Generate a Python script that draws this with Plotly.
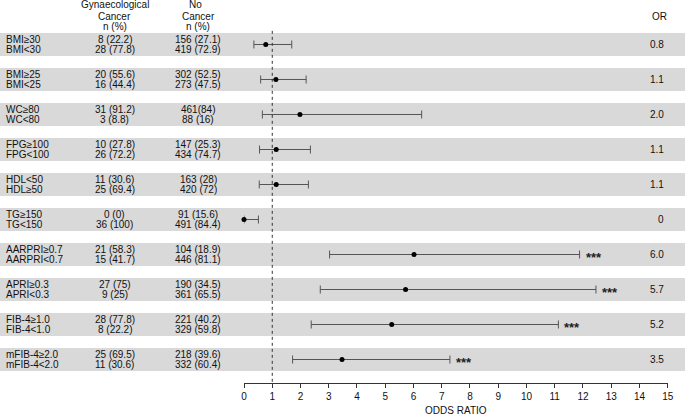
import plotly.graph_objects as go

labels_hi = ["BMI≥30", "BMI≥25", "WC≥80", "FPG≥100", "HDL<50", "TG≥150",
             "AARPRI≥0.7", "APRI≥0.3", "FIB-4≥1.0", "mFIB-4≥2.0"]
labels_lo = ["BMI<30", "BMI<25", "WC<80", "FPG<100", "HDL≥50", "TG<150",
             "AARPRI<0.7", "APRI<0.3", "FIB-4<1.0", "mFIB-4<2.0"]
gyn_hi = ["8 (22.2)", "20 (55.6)", "31 (91.2)", "10 (27.8)", "11 (30.6)", "0 (0)",
          "21 (58.3)", "27 (75)", "28 (77.8)", "25 (69.5)"]
gyn_lo = ["28 (77.8)", "16 (44.4)", "3 (8.8)", "26 (72.2)", "25 (69.4)", "36 (100)",
          "15 (41.7)", "9 (25)", "8 (22.2)", "11 (30.6)"]
no_hi = ["156 (27.1)", "302 (52.5)", "461(84)", "147 (25.3)", "163 (28)", "91 (15.6)",
         "104 (18.9)", "190 (34.5)", "221 (40.2)", "218 (39.6)"]
no_lo = ["419 (72.9)", "273 (47.5)", "88 (16)", "434 (74.7)", "420 (72)", "491 (84.4)",
         "446 (81.1)", "361 (65.5)", "329 (59.8)", "332 (60.4)"]
odds = [0.77, 1.13, 1.98, 1.14, 1.14, 0.0, 6.02, 5.72, 5.23, 3.47]
ci_low = [0.35, 0.59, 0.65, 0.55, 0.54, 0.0, 3.03, 2.70, 2.38, 1.72]
ci_high = [1.69, 2.20, 6.29, 2.35, 2.28, 0.51, 11.88, 12.46, 11.13, 7.29]
or_text = ["0.8", "1.1", "2.0", "1.1", "1.1", "0", "6.0", "5.7", "5.2", "3.5"]
signif = ["", "", "", "", "", "", "***", "***", "***", "***"]
x_ticks = list(range(0, 16))

rows = list(range(len(labels_hi)))
W, H = 685, 416
FONT = "Liberation Sans, Arial, sans-serif"
FS = 10

fig = go.Figure()

fig.add_trace(go.Scatter(
    x=odds, y=rows, mode="markers",
    marker=dict(color="black", size=5),
    error_x=dict(type="data", symmetric=False,
                 array=[h - o for h, o in zip(ci_high, odds)],
                 arrayminus=[o - l for o, l in zip(odds, ci_low)],
                 color="#555555", thickness=1, width=4),
    showlegend=False, hoverinfo="skip", cliponaxis=False,
))

shapes = []
for r in rows:
    shapes.append(dict(type="rect", xref="paper", yref="y", x0=0, x1=1,
                       y0=r - 0.33, y1=r + 0.33, fillcolor="#d9d9d9",
                       line=dict(width=0), layer="below"))
shapes.append(dict(type="line", xref="x", yref="y", x0=1, x1=1, y0=-0.39, y1=9.67,
                   line=dict(color="#333333", width=1, dash="dot")))

ann = []
def txt(x, y, s, xref="paper", anchor="left", size=FS, color="#111111", **kw):
    ann.append(dict(x=x, y=y, xref=xref, yref="y", text=s, showarrow=False,
                    xanchor=anchor, yanchor="middle",
                    font=dict(family=FONT, size=size, color=color), **kw))

dy = 0.155
for r in rows:
    txt(4 / W, r - dy, labels_hi[r])
    txt(4 / W, r + dy, labels_lo[r])
    txt(115 / W, r - dy, gyn_hi[r], anchor="center")
    txt(115 / W, r + dy, gyn_lo[r], anchor="center")
    txt(198 / W, r - dy, no_hi[r], anchor="center")
    txt(198 / W, r + dy, no_lo[r], anchor="center")
    txt(666 / W, r, or_text[r], anchor="right")
    if signif[r]:
        txt(ci_high[r], r, "<b>" + signif[r] + "</b>", xref="x", size=13,
            color="#222222", xshift=4, yshift=-3)

txt(115 / W, -1.129, "Gynaecological", anchor="center")
txt(115 / W, -0.814, "Cancer", anchor="center")
txt(115 / W, -0.50, "n (%)", anchor="center")
txt(195 / W, -1.129, "No", anchor="center")
txt(198 / W, -0.814, "Cancer", anchor="center")
txt(198 / W, -0.50, "n (%)", anchor="center")
txt(659 / W, -0.814, "OR", anchor="center")

fig.update_layout(
    width=W, height=H,
    margin=dict(l=0, r=0, t=0, b=0),
    paper_bgcolor="white", plot_bgcolor="rgba(0,0,0,0)",
    shapes=shapes, annotations=ann,
    xaxis=dict(domain=[244 / W, 667.7 / W], range=[0, 15],
               tickvals=x_ticks, ticktext=[str(t) for t in x_ticks],
               showgrid=False, zeroline=False, showline=True,
               linecolor="#333333", linewidth=1,
               ticks="outside", ticklen=4, tickcolor="#333333",
               tickfont=dict(family=FONT, size=FS, color="#111111"),
               automargin=False,
               title=dict(text="ODDS RATIO", standoff=11,
                          font=dict(family=FONT, size=FS, color="#111111"))),
    yaxis=dict(domain=[(H - 383) / H, 1], range=[9.671, -1.271],
               visible=False, showgrid=False, zeroline=False),
)

fig.write_html("out.html", config={"displayModeBar": False},
               post_script="document.body.style.margin='0px';document.body.style.overflow='hidden';")
